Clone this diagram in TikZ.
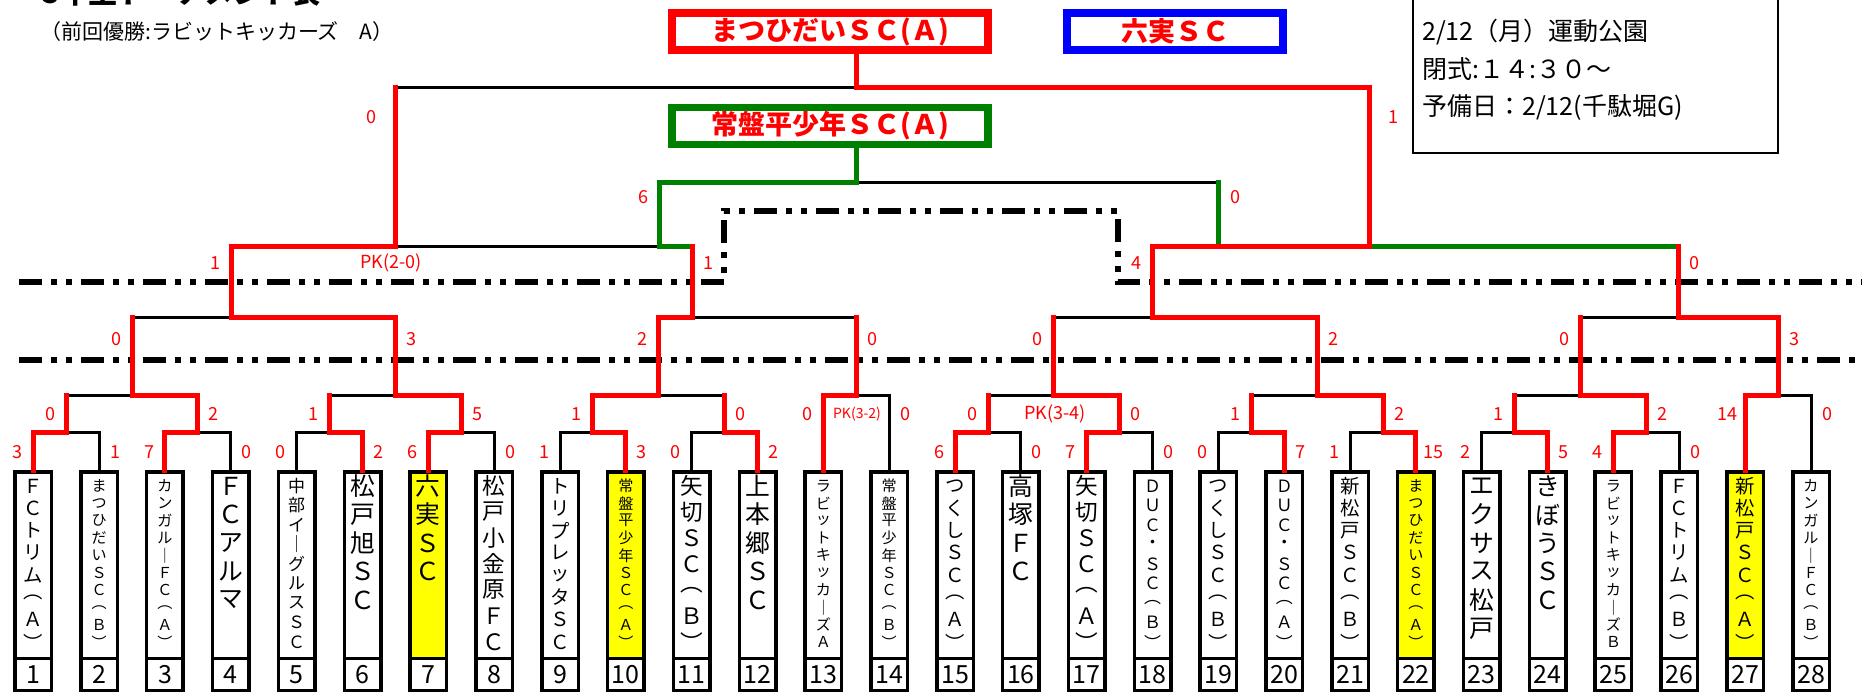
\documentclass[tikz,border=0pt]{standalone}
\usepackage{fontspec}
\setmainfont{Noto Sans CJK JP}
\usetikzlibrary{calc}
\definecolor{wred}{RGB}{255,0,0}
\definecolor{tgreen}{RGB}{0,128,0}
\definecolor{sblue}{RGB}{0,0,255}
\definecolor{tyellow}{RGB}{255,255,0}
\tikzset{
  loser/.style={draw=black, line width=3pt},
  winner/.style={draw=wred, line width=5pt, line cap=rect, line join=miter},
  thirdline/.style={draw=tgreen, line width=5pt, line cap=rect, line join=miter},
  dashdotline/.style={draw=black, line width=5.5pt, dash pattern=on 23pt off 9pt on 6pt off 9pt on 6pt off 9pt},
  namebox/.style={draw=black, line width=3.5pt, minimum width=36.5pt, minimum height=186.5pt, inner sep=0pt},
  numbox/.style={draw=black, fill=white, line width=3.5pt, minimum width=36.5pt, minimum height=32.2pt, inner sep=0pt, font=\fontsize{25}{25}\selectfont},
  score/.style={text=wred, font=\fontsize{18}{18}\selectfont, inner sep=0pt},
  topbox/.style={line width=7.5pt, fill=white, minimum width=316pt, minimum height=37pt, inner sep=0pt, font=\bfseries\fontsize{27}{27}\selectfont, text=wred},
  infotext/.style={anchor=west, inner sep=0pt, font=\fontsize{25}{25}\selectfont},
}
\newcommand\drawteam[4]{%
  \pgfmathsetmacro\teamx{33.3+65.84*(#1-1)}%
  \pgfmathsetmacro\teamp{min(28.5,156/(#2-1))}%
  \pgfmathsetmacro\teamf{min(25,0.87*\teamp)}%
  \node[namebox, fill=#3] (box#1) at (\teamx,565) {};%
  \node[numbox] (num#1) at (\teamx,674.4) {#1};%
  \foreach \c [count=\i] in {#4} {%
    \node[inner sep=0pt, font=\fontsize{\teamf}{\teamf}\selectfont] (ch#1-\i) at (\teamx,{486+(\i-1)*\teamp}) {\c};%
  }%
}
\begin{document}
\begin{tikzpicture}[x=1pt,y=-1pt]
\fill[white] (0,0) rectangle (1867,693);
\useasboundingbox (0,0) rectangle (1867,693);

% title and notes
\node[anchor=base west, inner sep=0pt, font=\bfseries\fontsize{29}{29}\selectfont] (title) at (42,3.5) {5年生トーナメント表};
\node[anchor=west, inner sep=0pt, font=\fontsize{21}{21}\selectfont] (subtitle) at (40,32) {（前回優勝:ラビットキッカーズ　A）};
\node[draw=black, line width=2.5pt, minimum width=365pt, minimum height=158pt, inner sep=0pt] (info) at (1595.5,74) {};
\node[infotext] (info1) at (1422,32) {2/12（月）運動公園};
\node[infotext] (info2) at (1422,69) {閉式:１４:３０～};
\node[infotext] (info3) at (1422,107) {予備日：2/12(千駄堀G)};

% dash-dot separators
\draw[dashdotline] (19,282) -- (724,282) -- (724,211) -- (1118,211) -- (1118,282) -- (1862,282);
\draw[dashdotline] (19,360) -- (1862,360);

% top result boxes
\node[topbox, draw=wred] (champ) at (830,31.5) {まつひだいＳＣ(Ａ)};
\node[topbox, draw=tgreen] (thirdbox) at (830,126) {常盤平少年ＳＣ(Ａ)};
\node[topbox, draw=sblue, minimum width=216pt] (second) at (1175,31.5) {六実ＳＣ};

% teams
\drawteam{1}{8}{white}{Ｆ,Ｃ,ト,リ,ム,︵,Ａ,︶}
\drawteam{2}{10}{white}{ま,つ,ひ,だ,い,Ｓ,Ｃ,︵,Ｂ,︶}
\drawteam{3}{10}{white}{カ,ン,ガ,ル,｜,Ｆ,Ｃ,︵,Ａ,︶}
\drawteam{4}{5}{white}{Ｆ,Ｃ,ア,ル,マ}
\drawteam{5}{9}{white}{中,部,イ,｜,グ,ル,ス,Ｓ,Ｃ}
\drawteam{6}{5}{white}{松,戸,旭,Ｓ,Ｃ}
\drawteam{7}{4}{tyellow}{六,実,Ｓ,Ｃ}
\drawteam{8}{7}{white}{松,戸,小,金,原,Ｆ,Ｃ}
\drawteam{9}{8}{white}{ト,リ,プ,レ,ッ,タ,Ｓ,Ｃ}
\drawteam{10}{10}{tyellow}{常,盤,平,少,年,Ｓ,Ｃ,︵,Ａ,︶}
\drawteam{11}{7}{white}{矢,切,Ｓ,Ｃ,︵,Ｂ,︶}
\drawteam{12}{5}{white}{上,本,郷,Ｓ,Ｃ}
\drawteam{13}{10}{white}{ラ,ビ,ッ,ト,キ,ッ,カ,｜,ズ,Ａ}
\drawteam{14}{10}{white}{常,盤,平,少,年,Ｓ,Ｃ,︵,Ｂ,︶}
\drawteam{15}{8}{white}{つ,く,し,Ｓ,Ｃ,︵,Ａ,︶}
\drawteam{16}{4}{white}{高,塚,Ｆ,Ｃ}
\drawteam{17}{7}{white}{矢,切,Ｓ,Ｃ,︵,Ａ,︶}
\drawteam{18}{9}{white}{Ｄ,Ｕ,Ｃ,・,Ｓ,Ｃ,︵,Ｂ,︶}
\drawteam{19}{8}{white}{つ,く,し,Ｓ,Ｃ,︵,Ｂ,︶}
\drawteam{20}{9}{white}{Ｄ,Ｕ,Ｃ,・,Ｓ,Ｃ,︵,Ａ,︶}
\drawteam{21}{8}{white}{新,松,戸,Ｓ,Ｃ,︵,Ｂ,︶}
\drawteam{22}{10}{tyellow}{ま,つ,ひ,だ,い,Ｓ,Ｃ,︵,Ａ,︶}
\drawteam{23}{6}{white}{エ,ク,サ,ス,松,戸}
\drawteam{24}{5}{white}{き,ぼ,う,Ｓ,Ｃ}
\drawteam{25}{10}{white}{ラ,ビ,ッ,ト,キ,ッ,カ,｜,ズ,Ｂ}
\drawteam{26}{8}{white}{Ｆ,Ｃ,ト,リ,ム,︵,Ｂ,︶}
\drawteam{27}{8}{tyellow}{新,松,戸,Ｓ,Ｃ,︵,Ａ,︶}
\drawteam{28}{10}{white}{カ,ン,ガ,ル,｜,Ｆ,Ｃ,︵,Ｂ,︶}

% branch points
\coordinate (a1) at (66.2,432);   \coordinate (a2) at (197.9,432);
\coordinate (a3) at (329.6,432);  \coordinate (a4) at (461.3,432);
\coordinate (a5) at (592.9,432);  \coordinate (a6) at (724.6,432);
\coordinate (a7) at (988.0,432);  \coordinate (a8) at (1119.7,432);
\coordinate (a9) at (1251.4,432); \coordinate (a10) at (1383.0,432);
\coordinate (a11) at (1514.7,432);\coordinate (a12) at (1646.4,432);
\coordinate (b1) at (132.1,395);  \coordinate (b2) at (395.4,395);
\coordinate (b3) at (658.8,395);  \coordinate (b4) at (856.3,395);
\coordinate (b5) at (1053.8,395); \coordinate (b6) at (1317.2,395);
\coordinate (b7) at (1580.6,395); \coordinate (b8) at (1778.1,395);
\coordinate (c1) at (231,317);    \coordinate (c2) at (692,317);
\coordinate (c3) at (1152,317);   \coordinate (c4) at (1678,317);
\coordinate (d1) at (395,246);    \coordinate (d1t) at (659,246);
\coordinate (d2) at (1369,246);   \coordinate (d2t) at (1218,246);
\coordinate (f) at (856,87);      \coordinate (t) at (856,182);

% losing lines
\foreach \tm/\br in {2/a1,4/a2,5/a3,8/a4,9/a5,11/a6,16/a7,18/a8,19/a9,21/a10,23/a11,26/a12,14/b4,28/b8}
  \draw[loser] (box\tm.north) |- (\br);
\foreach \lo/\br in {a1/b1,a3/b2,a6/b3,a7/b5,a9/b6,a11/b7}
  \draw[loser] (\lo |- \br) -- (\br);
\foreach \lo/\br in {b1/c1,b4/c2,b5/c3,b7/c4}
  \draw[loser] (\lo |- \br) -- (\br);
\draw[loser] (d1) -- (d1t);
\draw[loser] (d1 |- f) -- (f);
\draw[loser] (t) -- (d2t |- t);

% third place path
\draw[thirdline] (c2 |- d1) -- (d1t) |- (t) -- (t |- thirdbox.south);
\draw[thirdline] (c4 |- d2) -- (d2);
\draw[thirdline] (d2t) -- (d2t |- t);

% winning paths
\draw[winner] (box1.north) |- (a1) -- (a1 |- b1);
\draw[winner] (box3.north) |- (a2) |- (b1) -- (b1 |- c1);
\draw[winner] (box6.north) |- (a3) -- (a3 |- b2);
\draw[winner] (box7.north) |- (a4) |- (b2) |- (c1) |- (d1) -- (d1 |- f);
\draw[winner] (box10.north) |- (a5) |- (b3) |- (c2) -- (c2 |- d1);
\draw[winner] (box12.north) |- (a6) -- (a6 |- b3);
\draw[winner] (box13.north) |- (b4) -- (b4 |- c2);
\draw[winner] (box15.north) |- (a7) -- (a7 |- b5);
\draw[winner] (box17.north) |- (a8) |- (b5) -- (b5 |- c3);
\draw[winner] (box20.north) |- (a9) -- (a9 |- b6);
\draw[winner] (box22.north) |- (a10) |- (b6) |- (c3) |- (d2) |- (f) -- (f |- champ.south);
\draw[winner] (box24.north) |- (a11) -- (a11 |- b7);
\draw[winner] (box25.north) |- (a12) |- (b7) -- (b7 |- c4);
\draw[winner] (box27.north) |- (b8) |- (c4) -- (c4 |- d2);

% scores
\foreach \xx/\yy/\dx/\lab [count=\i] in {
  33.3/452/-16/3, 99.1/452/16/1, 165.0/452/-16/7, 230.8/452/16/0,
  296.7/452/-16/0, 362.5/452/16/2, 428.3/452/-16/6, 494.2/452/16/0,
  560.0/452/-16/1, 625.9/452/16/3, 691.7/452/-16/0, 757.5/452/16/2,
  955.1/452/-16/6, 1020.9/452/16/0, 1086.7/452/-16/7, 1152.6/452/16/0,
  1218.4/452/-16/0, 1284.3/452/16/7, 1350.1/452/-16/1, 1415.9/452/18/15,
  1481.8/452/-16/2, 1547.6/452/16/5, 1613.5/452/-16/4, 1679.3/452/16/0,
  66.2/414/-16/0, 197.9/414/16/2, 329.6/414/-16/1, 461.3/414/16/5,
  592.9/414/-16/1, 724.6/414/16/0, 823.4/414/-16/0, 889.2/414/16/0,
  988.0/414/-16/0, 1119.7/414/16/0, 1251.4/414/-16/1, 1383.0/414/16/2,
  1514.7/414/-16/1, 1646.4/414/16/2, 1745.1/414/-18/14, 1811.0/414/16/0,
  132.1/339/-16/0, 395.4/339/16/3, 658.8/339/-16/2, 856.3/339/16/0,
  1053.8/339/-16/0, 1317.2/339/16/2, 1580.6/339/-16/0, 1778.1/339/16/3,
  231/263/-16/1, 692/263/16/1, 1152/263/-16/4, 1678/263/16/0,
  659/197/-16/6, 1218/197/17/0,
  395/117/-24/0, 1369/117/24/1}
  \node[score] (sc\i) at ({\xx+\dx},\yy) {\lab};
\node[score] (pk1) at (391,263) {PK(2-0)};
\node[score, font=\fontsize{14}{14}\selectfont] (pk2) at (857,414) {PK(3-2)};
\node[score] (pk3) at (1055,414) {PK(3-4)};
\end{tikzpicture}
\end{document}
